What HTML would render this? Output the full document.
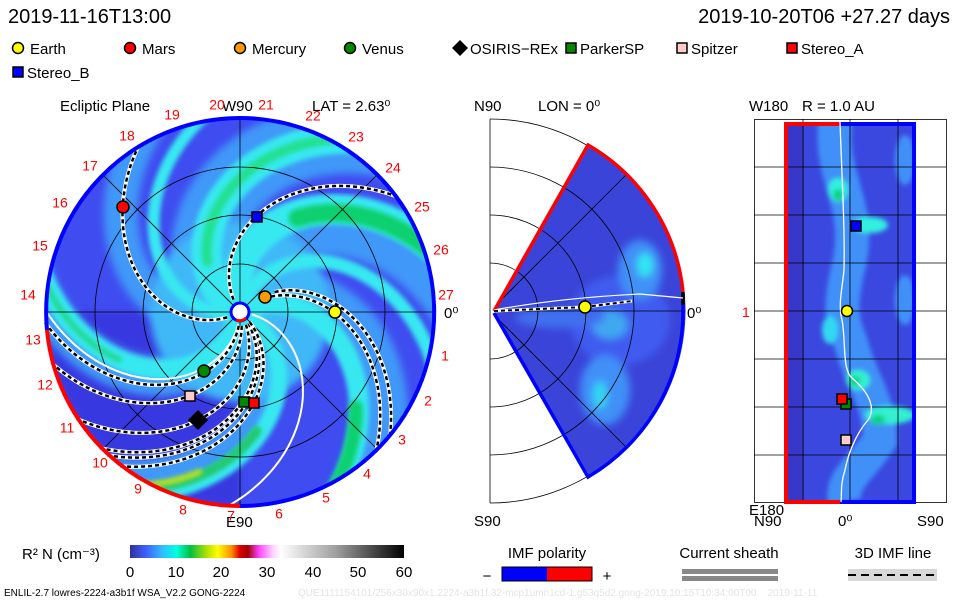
<!DOCTYPE html>
<html><head><meta charset="utf-8"><style>
html,body{margin:0;padding:0;background:#fff;width:960px;height:600px;overflow:hidden}
svg{display:block;font-family:"Liberation Sans Narrow","Liberation Sans",sans-serif}
.t{font-size:15px;fill:#000}
.r{font-size:14px;fill:#f00;text-anchor:middle;dominant-baseline:middle}
</style></head><body>
<svg id="s" width="960" height="600" viewBox="0 0 960 600" xmlns="http://www.w3.org/2000/svg">
<defs>
<clipPath id="cc"><circle cx="240" cy="312" r="194"/></clipPath>
<clipPath id="wc"><path d="M494,311 L590,145 A192,192 0 0 1 590,477 Z"/></clipPath>
<clipPath id="rc"><rect x="786" y="122" width="130" height="380"/></clipPath>
<filter id="bl" x="-20%" y="-20%" width="140%" height="140%"><feGaussianBlur stdDeviation="4"/></filter>
<filter id="bl2" x="-20%" y="-20%" width="140%" height="140%"><feGaussianBlur stdDeviation="2.5"/></filter>
<linearGradient id="cb" x1="0" x2="1">
<stop offset="0" stop-color="#3030a0"/><stop offset="0.06" stop-color="#4060ff"/><stop offset="0.12" stop-color="#30c0ff"/><stop offset="0.17" stop-color="#00ffe0"/><stop offset="0.22" stop-color="#00c040"/><stop offset="0.28" stop-color="#b0e000"/><stop offset="0.32" stop-color="#ffff00"/><stop offset="0.37" stop-color="#ff9000"/><stop offset="0.4" stop-color="#e00000"/><stop offset="0.43" stop-color="#a00000"/><stop offset="0.47" stop-color="#ff40ff"/><stop offset="0.52" stop-color="#ffd0ff"/><stop offset="0.55" stop-color="#ffffff"/><stop offset="0.75" stop-color="#a0a0a0"/><stop offset="1" stop-color="#000"/>
</linearGradient>
</defs>
<text x="8" y="23" style="font-size:20px">2019-11-16T13:00</text>
<text x="950" y="23" style="font-size:20px;text-anchor:end">2019-10-20T06 +27.27 days</text>
<g class="t" style="font-size:15px">
<circle cx="18" cy="48" r="5.5" fill="#ff0" stroke="#000" stroke-width="1.5"/><text x="30" y="54">Earth</text>
<circle cx="130" cy="48" r="5.5" fill="#f00" stroke="#000" stroke-width="1.5"/><text x="142" y="54">Mars</text>
<circle cx="240" cy="48" r="5.5" fill="#f90" stroke="#000" stroke-width="1.5"/><text x="252" y="54">Mercury</text>
<circle cx="350" cy="48" r="5.5" fill="#080" stroke="#000" stroke-width="1.5"/><text x="362" y="54">Venus</text>
<path d="M460,40 L468,48 L460,56 L452,48Z" fill="#000"/><text x="470" y="54">OSIRIS−REx</text>
<rect x="566" y="43" width="10" height="10" fill="#080" stroke="#000" stroke-width="1.5"/><text x="580" y="54">ParkerSP</text>
<rect x="677" y="43" width="10" height="10" fill="#fcc" stroke="#000" stroke-width="1.5"/><text x="691" y="54">Spitzer</text>
<rect x="787" y="43" width="10" height="10" fill="#f00" stroke="#000" stroke-width="1.5"/><text x="801" y="54">Stereo_A</text>
<rect x="13" y="67" width="10" height="10" fill="#00f" stroke="#000" stroke-width="1.5"/><text x="27" y="78">Stereo_B</text>
</g>
<!-- ecliptic -->
<g clip-path="url(#cc)">
<rect x="40" y="110" width="400" height="400" fill="#3f4cf0"/>
<path d="M240,312 L46,312 A194,194 0 0 0 240,506 Z" fill="#3838e0" filter="url(#bl)"/>
<g id="bands" fill="none" stroke-linecap="round"></g>
</g>
<g id="egrid" fill="none" stroke="#000" stroke-width="0.8">
<circle cx="240" cy="312" r="48"/><circle cx="240" cy="312" r="97"/><circle cx="240" cy="312" r="145"/>
<line x1="46" y1="312" x2="434" y2="312"/><line x1="240" y1="118" x2="240" y2="506"/>
<line x1="103" y1="175" x2="377" y2="449"/><line x1="103" y1="449" x2="377" y2="175"/>
</g>
<g id="arms" fill="none"></g>
<path d="M240,506 A194,194 0 0 1 47,330" fill="none" stroke="#f00" stroke-width="4"/>
<path d="M47,330 A194,194 0 1 1 240,506" fill="none" stroke="#00f" stroke-width="4"/>
<circle cx="240" cy="312" r="9" fill="#fff" stroke="#00f" stroke-width="3"/>
<path d="M246,318 A9,9 0 0 1 236,320" fill="none" stroke="#f00" stroke-width="3"/>
<g stroke="#000" stroke-width="1.5">
<circle cx="335" cy="312" r="6" fill="#ff0"/>
<circle cx="123" cy="207" r="6" fill="#f00"/>
<circle cx="265" cy="297" r="6" fill="#f90"/>
<circle cx="204" cy="371" r="6" fill="#080"/>
<path d="M198,411 L207,420 L198,429 L189,420Z" fill="#000"/>
<rect x="239" y="397" width="10" height="10" fill="#080"/>
<rect x="249" y="398" width="10" height="10" fill="#f00"/>
<rect x="185" y="391" width="10" height="10" fill="#fcc"/>
<rect x="252" y="212" width="10" height="10" fill="#00f"/>
</g>
<g class="t">
<text x="60" y="111">Ecliptic Plane</text>
<text x="222" y="111">W90</text>
<text x="312" y="111">LAT = 2.63⁰</text>
<text x="226" y="527">E90</text>
<text x="444" y="318">0⁰</text>
</g>
<g class="r">
<text x="172" y="116">19</text><text x="217" y="106">20</text><text x="266" y="106">21</text><text x="313" y="117">22</text><text x="356" y="138">23</text><text x="393" y="169">24</text><text x="422" y="208">25</text><text x="441" y="251">26</text><text x="446" y="296">27</text><text x="445" y="357">1</text><text x="428" y="402">2</text><text x="402" y="441">3</text><text x="367" y="475">4</text><text x="326" y="499">5</text><text x="279" y="515">6</text><text x="231" y="517">7</text><text x="183" y="511">8</text><text x="138" y="490">9</text><text x="100" y="464">10</text><text x="67" y="429">11</text><text x="45" y="386">12</text><text x="33" y="341">13</text><text x="28" y="296">14</text><text x="40" y="247">15</text><text x="60" y="204">16</text><text x="90" y="167">17</text><text x="127" y="137">18</text>
</g>
<!-- meridional -->
<g fill="none" stroke="#000" stroke-width="0.8">
<line x1="490" y1="119" x2="490" y2="503"/>
<path d="M490,263 A48,48 0 0 1 490,359"/><path d="M490,215 A96,96 0 0 1 490,407"/><path d="M490,167 A144,144 0 0 1 490,455"/><path d="M490,119 A192,192 0 0 1 490,503"/>
</g>
<g clip-path="url(#wc)">
<rect x="490" y="140" width="200" height="345" fill="#3a44d8"/>
<g filter="url(#bl)">
<ellipse cx="620" cy="320" rx="50" ry="45" fill="#3f5cf0"/>
<ellipse cx="640" cy="270" rx="22" ry="30" fill="#4090f8"/>
<ellipse cx="645" cy="265" rx="8" ry="12" fill="#30e8f0"/>
<ellipse cx="605" cy="390" rx="25" ry="35" fill="#4090f8"/>
<ellipse cx="600" cy="395" rx="7" ry="14" fill="#30d8f0"/>
<ellipse cx="610" cy="325" rx="18" ry="14" fill="#40a8f0"/>
<ellipse cx="560" cy="318" rx="45" ry="10" fill="#4070f0"/>
</g>
<g fill="none" stroke="#000" stroke-width="0.8">
<path d="M490,263 A48,48 0 0 1 490,359"/><path d="M490,215 A96,96 0 0 1 490,407"/><path d="M490,167 A144,144 0 0 1 490,455"/>
<line x1="490" y1="311" x2="690" y2="311"/><line x1="490" y1="311" x2="630" y2="171"/><line x1="490" y1="311" x2="630" y2="451"/>
</g>
</g>
<path d="M494,311 L588,145 A192,192 0 0 1 683,292" fill="none" stroke="#f00" stroke-width="3.5"/>
<path d="M683,292 L683,305" stroke="#000" stroke-width="3.5"/>
<path d="M683,305 A192,192 0 0 1 588,477 L494,313" fill="none" stroke="#00f" stroke-width="3.5"/>
<path d="M494,310 Q560,298 640,294 L683,298" fill="none" stroke="#fff" stroke-width="1.2"/>
<path d="M494,311 L585,307 L632,301" fill="none" stroke="#fff" stroke-width="3"/>
<path d="M494,311 L585,307 L632,301" fill="none" stroke="#000" stroke-width="2" stroke-dasharray="4 3"/>
<circle cx="585" cy="307" r="6" fill="#ff0" stroke="#000" stroke-width="1.5"/>
<g class="t"><text x="474" y="111">N90</text><text x="538" y="111">LON = 0⁰</text><text x="474" y="526">S90</text><text x="687" y="318">0⁰</text></g>
<!-- right panel -->
<g clip-path="url(#rc)">
<rect x="786" y="122" width="130" height="380" fill="#3a48e0"/>
<rect x="786" y="122" width="18" height="380" fill="#3838c8"/>
<g filter="url(#bl2)">
<path d="M835,122 C830,180 860,200 850,260 C840,300 840,320 850,340 C860,380 880,400 880,440 C860,470 840,480 845,502" fill="none" stroke="#4090f8" stroke-width="34"/>
<ellipse cx="838" cy="190" rx="10" ry="12" fill="#30f0e0"/>
<ellipse cx="838" cy="195" rx="5" ry="6" fill="#10d080"/>
<ellipse cx="870" cy="225" rx="18" ry="8" fill="#30f0e0"/>
<ellipse cx="858" cy="380" rx="12" ry="10" fill="#30f0d0"/>
<ellipse cx="855" cy="381" rx="5" ry="5" fill="#10d080"/>
<ellipse cx="890" cy="415" rx="25" ry="9" fill="#30f0d0"/>
<ellipse cx="878" cy="420" rx="7" ry="5" fill="#10d080"/>
<ellipse cx="830" cy="330" rx="8" ry="14" fill="#30d8f0"/>
<ellipse cx="905" cy="300" rx="10" ry="25" fill="#4090f8"/>
<ellipse cx="905" cy="160" rx="10" ry="25" fill="#4090f8"/>
</g>
</g>
<g stroke="#000" stroke-width="0.8" fill="none">
<rect x="754.5" y="119.5" width="192" height="383"/>
<line x1="803" y1="119" x2="803" y2="503"/><line x1="850" y1="119" x2="850" y2="503"/><line x1="898" y1="119" x2="898" y2="503"/>
<line x1="754" y1="167" x2="946" y2="167"/><line x1="754" y1="215" x2="946" y2="215"/><line x1="754" y1="263" x2="946" y2="263"/><line x1="754" y1="311" x2="946" y2="311"/><line x1="754" y1="359" x2="946" y2="359"/><line x1="754" y1="407" x2="946" y2="407"/><line x1="754" y1="455" x2="946" y2="455"/>
</g>
<path d="M840,124 L786,124 L786,502 L840,502" fill="none" stroke="#f00" stroke-width="4"/>
<path d="M840,124 L914,124 L914,502 L840,502" fill="none" stroke="#00f" stroke-width="4"/>
<path d="M840,122 C842,180 845,230 844,270 C842,290 838,305 842,320 C846,340 842,370 852,378 C872,395 875,410 868,420 C855,435 848,455 845,470 C840,485 842,495 841,502" fill="none" stroke="#fff" stroke-width="1.3"/>
<g stroke="#000" stroke-width="1.5">
<rect x="851" y="221" width="10" height="10" fill="#00f"/>
<circle cx="847" cy="311" r="5.5" fill="#ff0"/>
<rect x="841" y="399" width="10" height="10" fill="#080"/>
<rect x="837" y="394" width="10" height="10" fill="#f00"/>
<rect x="841" y="435" width="10" height="10" fill="#fcc"/>
</g>
<g class="t"><text x="749" y="111">W180</text><text x="802" y="111">R = 1.0 AU</text><text x="749" y="515">E180</text><text x="754" y="526">N90</text><text x="838" y="526">0⁰</text><text x="917" y="526">S90</text></g>
<text x="742" y="317" style="font-size:14px;fill:#f00">1</text>
<!-- colorbar -->
<text x="22" y="559" class="t">R² N (cm⁻³)</text>
<rect x="130" y="545" width="274" height="13" fill="url(#cb)"/>
<g class="t" style="text-anchor:middle">
<text x="130" y="577">0</text><text x="176" y="577">10</text><text x="221" y="577">20</text><text x="267" y="577">30</text><text x="313" y="577">40</text><text x="358" y="577">50</text><text x="404" y="577">60</text>
<text x="547" y="558">IMF polarity</text><text x="729" y="558">Current sheath</text><text x="893" y="558">3D IMF line</text>
<text x="487" y="581">−</text><text x="607" y="581">+</text>
</g>
<rect x="502" y="567" width="45" height="14" fill="#00f"/><rect x="547" y="567" width="45" height="14" fill="#f00"/>
<rect x="502" y="567" width="90" height="14" fill="none" stroke="#000"/>
<rect x="682" y="569" width="96" height="5" fill="#888"/><rect x="682" y="576" width="96" height="5" fill="#888"/>
<rect x="848" y="569" width="89" height="12" fill="#d8d8d8"/>
<line x1="848" y1="575" x2="937" y2="575" stroke="#000" stroke-width="2" stroke-dasharray="8 5"/>
<text x="4" y="596" style="font-size:10px">ENLIL-2.7 lowres-2224-a3b1f WSA_V2.2 GONG-2224</text>
<text x="298" y="596" style="font-size:10px;fill:#e4e4e4">QUE1111154101/256x30x90x1.2224-a3b1f.32-mcp1umn1cd-1.g53q5d2.gong-2019:10:15T10:34:00T00&#160;&#160;&#160;&#160;2019-11-11</text>
</svg>
<script>
(function(){
var NS="http://www.w3.org/2000/svg",cx=240,cy=312,a=0.45;
function sp(p0,r0,r1){var d="";for(var r=r0;r<=r1;r+=2){var f=(p0+a*r)*Math.PI/180;d+=(r==r0?"M":"L")+(cx+r*Math.cos(f)).toFixed(1)+","+(cy+r*Math.sin(f)).toFixed(1);}return d;}
function add(g,d,st){var p=document.createElementNS(NS,"path");p.setAttribute("d",d);for(var k in st)p.setAttribute(k,st[k]);g.appendChild(p);return p;}
var b=document.getElementById("bands");
[[-150,70],[-100,60],[-45,45],[35,34],[95,40],[150,34]].forEach(function(x){add(b,sp(x[0],0,260),{stroke:"#4098f8","stroke-width":x[1],filter:"url(#bl)"});});
add(b,"M240,312 m-90,0 a90,90 0 1 0 180,0 a90,90 0 1 0 -180,0",{fill:"#40b8f8",stroke:"none",filter:"url(#bl)"});
[[-150,30],[-110,30],[-30,20],[25,16],[100,20],[-75,14],[170,12]].forEach(function(x){add(b,sp(x[0],0,260),{stroke:"#38e8f0","stroke-width":x[1],filter:"url(#bl2)"});});
add(b,sp(-108,110,260),{stroke:"#10d070","stroke-width":18,filter:"url(#bl2)"});
add(b,sp(-150,60,200),{stroke:"#20e090","stroke-width":10,filter:"url(#bl2)"});
add(b,sp(-28,150,260),{stroke:"#10d070","stroke-width":14,filter:"url(#bl2)"});
add(b,sp(28,120,260),{stroke:"#20c870","stroke-width":10,filter:"url(#bl2)"});
add(b,sp(30,165,260),{stroke:"#c0e020","stroke-width":6,filter:"url(#bl2)"});
add(b,sp(100,130,260),{stroke:"#20d890","stroke-width":6,filter:"url(#bl2)"});
var g=document.getElementById("arms");
add(g,sp(6,12,196),{stroke:"#fff","stroke-width":2});
add(g,sp(93,12,196),{stroke:"#fff","stroke-width":2});
[[-42,28],[-48,40],[151,14],[-124,14],[45,14],[48,14],[40,14],[77,14],[89,14],[59,14]].forEach(function(x){
 var d=sp(x[0],x[1],196);
 add(g,d,{stroke:"#fff","stroke-width":4});
 add(g,d,{stroke:"#000","stroke-width":2.5,"stroke-dasharray":"4 3"});
});
})();
</script>
</body></html>
